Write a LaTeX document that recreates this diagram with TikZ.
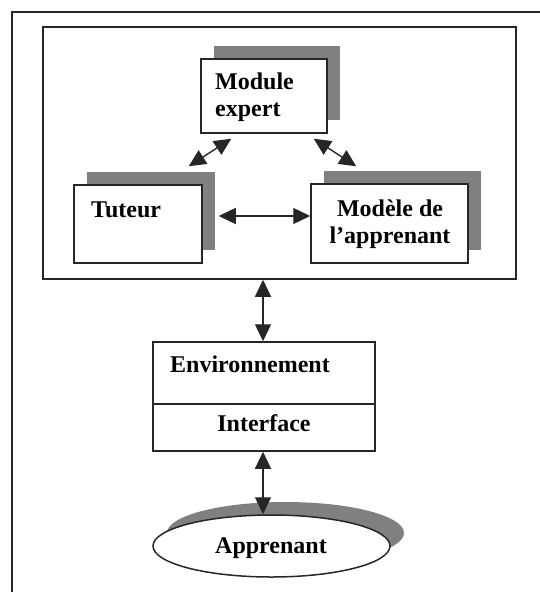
\documentclass[tikz,border=0pt]{standalone}
\usepackage{fontspec}
\setmainfont{Liberation Serif}
\usetikzlibrary{arrows.meta,calc,shadows,shapes.geometric}
\definecolor{shadowgray}{HTML}{808080}
\definecolor{linec}{HTML}{262626}
\begin{document}
\begin{tikzpicture}[x=1bp,y=-1bp,
  box/.style={draw=linec, line width=1.5bp, fill=white, inner sep=0pt},
  boxshadow/.style={general shadow={fill=shadowgray, shadow xshift=13bp, shadow yshift=13bp}},
  arr/.style={draw=linec, line width=1.4bp, {Triangle[length=17bp,width=16bp]}-{Triangle[length=17bp,width=16bp]}},
  lbl/.style={font=\fontsize{24bp}{27.5bp}\selectfont\bfseries, inner sep=0pt, text=black},
]
\useasboundingbox (0,0) rectangle (540,592);
% outer frame (only top and left edges visible)
\draw[linec, line width=1.4bp] (545,12) -- (12,12) -- (12,597);
% system frame
\node[box, minimum width=473bp, minimum height=252bp] (sys) at (279.5,153) {};
% three modules
\node[box, boxshadow, minimum width=126bp, minimum height=74bp] (mod) at (264,96) {};
\node[box, boxshadow, minimum width=128bp, minimum height=78bp] (tut) at (138,224) {};
\node[box, boxshadow, minimum width=157bp, minimum height=79bp] (mdl) at (389.5,223.5) {};
\node[lbl, anchor=base west] (tmod1) at (215,90) {Module};
\node[lbl, anchor=base west] (tmod2) at (215,117) {expert};
\node[lbl, anchor=base west] (ttut) at (91,217) {Tuteur};
\node[lbl, anchor=base] (tmdl1) at (390,216) {Modèle de};
\node[lbl, anchor=base] (tmdl2) at (390,243) {l’apprenant};
% environment / interface
\node[box, minimum width=222bp, minimum height=62bp] (env) at (264,373) {};
\node[box, minimum width=222bp, minimum height=47bp] (iface) at (264,427.5) {};
\node[lbl, anchor=base west] (tenv) at (170,372) {Environnement};
\node[lbl, anchor=base] (tif) at (264,431) {Interface};
% learner
\node[box, ellipse, general shadow={fill=shadowgray, shadow xshift=14bp, shadow yshift=13bp},
      minimum width=237bp, minimum height=62bp] (app) at (271.5,546) {};
\node[lbl, anchor=base] (tapp) at (271,553) {Apprenant};
% connectors
\draw[arr] ($(mod.south west)+(31,5)$) -- ($(tut.north east)+(-14,-18)$);
\draw[arr] ($(mod.south east)+(-14,5)$) -- ($(mdl.north west)+(46,-17)$);
\draw[arr] ($(tut.east)+(16,-8)$) -- ($(mdl.west)+(0,-7.5)$);
\draw[arr] ($(sys.south -| env.north)+(-1,0)$) -- ($(env.north)+(-1,0)$);
\draw[arr] ($(iface.south)+(-1,0)$) -- ($(iface.south |- app.north)+(-1,0)$);
\end{tikzpicture}
\end{document}
